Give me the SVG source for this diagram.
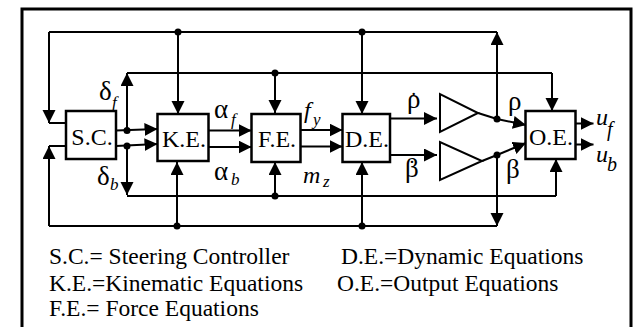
<svg xmlns="http://www.w3.org/2000/svg" width="634" height="327" viewBox="0 0 634 327">
<style>
.box{fill:#fff;stroke:#000;stroke-width:2.5}
.ln{fill:none;stroke:#000;stroke-width:2}
.ar{fill:none;stroke:#000;stroke-width:2;marker-end:url(#ah)}
.dot{fill:#000}
.gain{fill:#fff;stroke:#000;stroke-width:2}
text{font-family:"Liberation Serif","Times New Roman",serif;fill:#000}
.lbl{font-size:24px;text-anchor:middle}
.gr{font-size:27px}
.it{font-style:italic}
.sub{font-size:17px;font-style:italic}
.leg{font-size:23.5px}
</style>
<defs>
<marker id="ah" markerUnits="userSpaceOnUse" markerWidth="14" markerHeight="14" refX="13" refY="6.5" orient="auto">
<path d="M0,0 L13,6.5 L0,13 z" fill="#000"/>
</marker>
</defs>
<rect width="634" height="327" fill="#fff"/>
<path d="M22,340 V9 H631 V340" fill="none" stroke="#000" stroke-width="3"/>
<g id="connectors">
<path class="ln" d="M49,32 H497"/>
<line class="ar" x1="49" y1="32" x2="49" y2="123"/>
<line class="ln" x1="49" y1="123" x2="66" y2="123"/>
<line class="ar" x1="497" y1="119" x2="497" y2="32"/>
<line class="ar" x1="178" y1="32" x2="178" y2="114"/>
<line class="ar" x1="362" y1="32" x2="362" y2="114"/>
<circle class="dot" cx="178" cy="32" r="3.5"/>
<circle class="dot" cx="362" cy="32" r="3.5"/>
<line class="ar" x1="127" y1="130" x2="127" y2="73"/>
<path class="ln" d="M127,73 H552"/>
<line class="ar" x1="552" y1="73" x2="552" y2="111"/>
<line class="ar" x1="275" y1="73" x2="275" y2="113"/>
<circle class="dot" cx="275" cy="73" r="3.5"/>
<line class="ar" x1="127" y1="146" x2="127" y2="195"/>
<path class="ln" d="M127,196 H556"/>
<line class="ar" x1="556" y1="196" x2="556" y2="159"/>
<line class="ar" x1="275" y1="196" x2="275" y2="162"/>
<circle class="dot" cx="275" cy="196" r="3.5"/>
<path class="ln" d="M49,226 H497"/>
<line class="ar" x1="49" y1="226" x2="49" y2="146"/>
<line class="ln" x1="49" y1="146" x2="66" y2="146"/>
<line class="ar" x1="497" y1="155" x2="497" y2="226"/>
<line class="ar" x1="177" y1="226" x2="177" y2="162"/>
<line class="ar" x1="362" y1="226" x2="362" y2="162"/>
<circle class="dot" cx="177" cy="226" r="3.5"/>
<circle class="dot" cx="362" cy="226" r="3.5"/>
<line class="ar" x1="116" y1="130.5" x2="157.5" y2="129"/>
<line class="ar" x1="116" y1="146" x2="157.5" y2="144"/>
<circle class="dot" cx="127" cy="130.5" r="3.5"/>
<circle class="dot" cx="127" cy="146" r="3.5"/>
<line class="ar" x1="209" y1="130.5" x2="251.5" y2="130.5"/>
<line class="ar" x1="209" y1="147" x2="251.5" y2="147"/>
<line class="ar" x1="300" y1="130" x2="342.5" y2="130"/>
<line class="ar" x1="300" y1="146.5" x2="342.5" y2="146.5"/>
<line class="ar" x1="390" y1="118.5" x2="437" y2="118.5"/>
<line class="ar" x1="390" y1="155" x2="437" y2="155"/>
<polyline class="ln" points="478,113 497,119"/>
<line class="ar" x1="497" y1="119" x2="526" y2="125"/>
<polyline class="ln" points="482,161 497,155"/>
<line class="ar" x1="497" y1="155" x2="526" y2="143"/>
<circle class="dot" cx="497" cy="119" r="3.5"/>
<circle class="dot" cx="497" cy="155" r="3.5"/>
<line class="ar" x1="576" y1="123.5" x2="593.5" y2="123.5"/>
<line class="ar" x1="576" y1="144.5" x2="593.5" y2="144.5"/>
</g>
<g id="sc"><rect class="box" x="66" y="111" width="50" height="48"/><text class="lbl" x="92" y="145">S.C.</text></g>
<g id="ke"><rect class="box" x="157.5" y="114" width="51" height="47"/><text class="lbl" x="184" y="147">K.E.</text></g>
<g id="fe"><rect class="box" x="251.5" y="114" width="49" height="48"/><text class="lbl" x="277" y="147">F.E.</text></g>
<g id="de"><rect class="box" x="342.5" y="114" width="47.5" height="48"/><text class="lbl" x="367" y="147">D.E.</text></g>
<g id="oe"><rect class="box" x="525.5" y="111" width="50" height="48"/><text class="lbl" x="551" y="145">O.E.</text></g>
<g id="gain-rho"><polygon class="gain" points="440,94 440,132 478,113"/></g>
<g id="gain-beta"><polygon class="gain" points="440,142 440,180 482,161"/></g>
<g id="labels">
<text x="99" y="100" class="gr">δ</text><text x="112" y="108" class="sub">f</text>
<text x="97" y="185" class="gr">δ</text><text x="110" y="190" class="sub">b</text>
<text x="214" y="118" class="gr">α</text><text x="231" y="125" class="sub">f</text>
<text x="214" y="180" class="gr">α</text><text x="231" y="185" class="sub">b</text>
<text x="304" y="118" class="it" font-size="24">f</text><text x="313" y="125" class="sub">y</text>
<text x="303" y="183" class="it" font-size="24">m</text><text x="323" y="187" class="sub">z</text>
<text x="407" y="108" class="gr">ρ<tspan dx="-10.5" dy="-1" font-size="22">˙</tspan></text>
<text x="405" y="177" class="gr">β<tspan dx="-10.5" dy="-2" font-size="22">˙</tspan></text>
<text x="508" y="110" class="gr">ρ</text>
<text x="506" y="178" class="gr">β</text>
<text x="596" y="125" class="it" font-size="24">u</text><text x="607" y="136" class="it" font-size="20">f</text>
<text x="596" y="162" class="it" font-size="24">u</text><text x="607" y="171" class="it" font-size="20">b</text>
</g>
<g id="legend">
<text x="49" y="264" class="leg">S.C.= Steering Controller</text>
<text x="49" y="291" class="leg">K.E.=Kinematic Equations</text>
<text x="49" y="316" class="leg">F.E.= Force Equations</text>
<text x="341" y="264" class="leg">D.E.=Dynamic Equations</text>
<text x="337" y="291" class="leg">O.E.=Output Equations</text>
</g>
</svg>
